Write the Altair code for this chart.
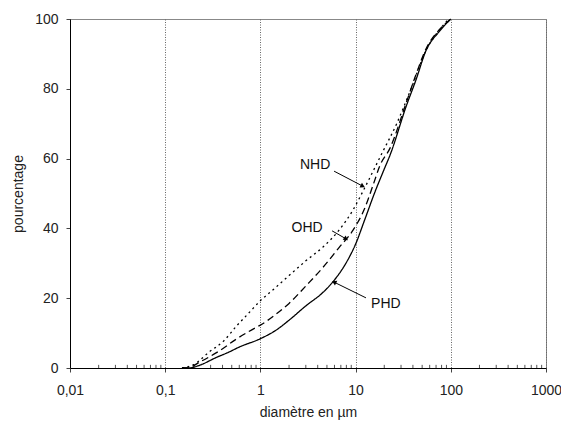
import altair as alt
import pandas as pd

# ---- data ----
phd_x = [0.15, 0.18, 0.22, 0.35, 0.47, 0.6, 1.0, 1.47, 2.0, 3.0, 4.6, 5.9, 7.9, 10.0, 12.4, 16.0, 20.0, 23.0, 34.0, 43.0, 55.0, 75.0, 100.0]
phd_y = [0, 0, 0.6, 3.1, 4.6, 6.0, 8.4, 10.9, 13.7, 17.8, 21.8, 25.0, 30.0, 35.5, 42.3, 50.5, 57.0, 61.0, 75.0, 82.5, 91.0, 96.3, 100.0]

ohd_x = [0.15, 0.17, 0.23, 0.37, 0.56, 0.91, 1.0, 1.47, 2.0, 3.0, 4.6, 6.7, 9.4, 12.4, 15.3, 18.0, 23.0, 34.0, 43.0, 55.0, 75.0, 100.0]
ohd_y = [0, 0, 1.7, 4.9, 8.3, 11.7, 12.3, 15.5, 18.5, 23.5, 29.0, 34.5, 39.5, 45.6, 52.5, 58.0, 63.0, 76.0, 84.0, 91.5, 96.8, 100.0]

nhd_x = [0.15, 0.2, 0.29, 0.41, 0.56, 0.77, 1.0, 1.37, 2.0, 3.0, 4.6, 6.7, 9.4, 12.4, 14.7, 18.5, 27.0, 37.0, 55.0, 82.0, 95.0]
nhd_y = [0, 1.0, 4.6, 7.7, 12.0, 16.0, 19.3, 22.5, 26.5, 30.7, 34.8, 39.5, 45.3, 51.5, 55.5, 61.0, 70.0, 79.0, 91.0, 98.0, 100.0]

series_names = ["PHD", "OHD", "NHD"]

major_x = [0.01, 0.1, 1, 10, 100, 1000]
minor_x = [m * d for d in [0.01, 0.1, 1, 10, 100] for m in range(2, 10)]
y_ticks = list(range(0, 101, 10))

# annotation labels and arrows (label text, label pos, arrow from -> to, arrow angle)
ann_label = ["NHD", "OHD", "PHD"]
ann_tx = [3.76, 3.10, 20.8]
ann_ty = [58.2, 40.1, 18.3]
arr_x1 = [5.94, 5.66, 12.85]
arr_y1 = [56.4, 39.3, 20.1]
arr_x2 = [11.9, 7.94, 5.94]
arr_y2 = [52.1, 37.0, 24.6]
arr_ang = [27, 34, 206]

rows = []
for name, xs, ys in zip(series_names, [phd_x, ohd_x, nhd_x], [phd_y, ohd_y, nhd_y]):
    for a, b in zip(xs, ys):
        rows.append({"serie": name, "d": a, "p": b})
df = pd.DataFrame(rows)

ann = pd.DataFrame({"label": ann_label, "tx": ann_tx, "ty": ann_ty,
                    "x1": arr_x1, "y1": arr_y1, "x2": arr_x2, "y2": arr_y2, "ang": arr_ang})
minor_df = pd.DataFrame({"m": minor_x})

FONT = "Liberation Sans"
FS = 14

xscale = alt.Scale(type="log", domain=[0.01, 1000])
yscale = alt.Scale(domain=[0, 100])

xaxis = alt.Axis(values=major_x, labelExpr="replace(toString(datum.value), '.', ',')",
                 title="diamètre en µm", grid=True, gridColor="#666", gridDash=[1, 1.5],
                 gridWidth=1, domainColor="black", tickColor="#444", tickSize=4,
                 labelFont=FONT, labelFontSize=FS, labelColor="#222", labelPadding=11,
                 labelOverlap=False, labelFlush=False,
                 titleFont=FONT, titleFontSize=FS, titleFontWeight="normal", titleColor="#222",
                 titlePadding=8)
yaxis = alt.Axis(values=y_ticks, title="pourcentage", grid=False, domainColor="black",
                 tickColor="#444", tickSize=4, labelFont=FONT, labelFontSize=FS,
                 labelColor="#222", labelPadding=8, labelOverlap=False,
                 titleFont=FONT, titleFontSize=FS, titleFontWeight="normal",
                 titleColor="#222", titlePadding=9)

lines = alt.Chart(df).mark_line(color="black", strokeWidth=1.3, interpolate="monotone").encode(
    x=alt.X("d:Q", scale=xscale, axis=xaxis),
    y=alt.Y("p:Q", scale=yscale, axis=yaxis),
    strokeDash=alt.StrokeDash("serie:N", scale=alt.Scale(domain=series_names,
                              range=[[1, 0], [7, 4], [2, 3.5]]), legend=None),
    detail="serie:N",
)

minor = alt.Chart(minor_df).mark_rule(color="#555", strokeWidth=1).encode(
    x=alt.X("m:Q", scale=xscale),
    y=alt.Y(datum=0, scale=yscale),
    y2=alt.Y2(datum=0.9),
)

arrows = alt.Chart(ann).mark_rule(color="black", strokeWidth=1).encode(
    x=alt.X("x1:Q", scale=xscale), y=alt.Y("y1:Q", scale=yscale),
    x2="x2:Q", y2="y2:Q",
)
heads = alt.Chart(ann).mark_point(shape="triangle-right", filled=True, color="black",
                                  size=28, opacity=1).encode(
    x=alt.X("x2:Q", scale=xscale), y=alt.Y("y2:Q", scale=yscale),
    angle=alt.Angle("ang:Q", scale=None),
)
labels = alt.Chart(ann).mark_text(font=FONT, fontSize=FS, color="#111").encode(
    x=alt.X("tx:Q", scale=xscale), y=alt.Y("ty:Q", scale=yscale),
    text="label:N",
)

chart = alt.layer(minor, lines, arrows, heads, labels).properties(
    width=476, height=349,
    autosize=alt.AutoSizeParams(type="none"),
    padding={"left": 62, "top": 11, "right": 15, "bottom": 52},
).configure_view(stroke="#888", strokeWidth=1)

chart.save("out.html", embed_options={"renderer": "svg", "actions": False})
